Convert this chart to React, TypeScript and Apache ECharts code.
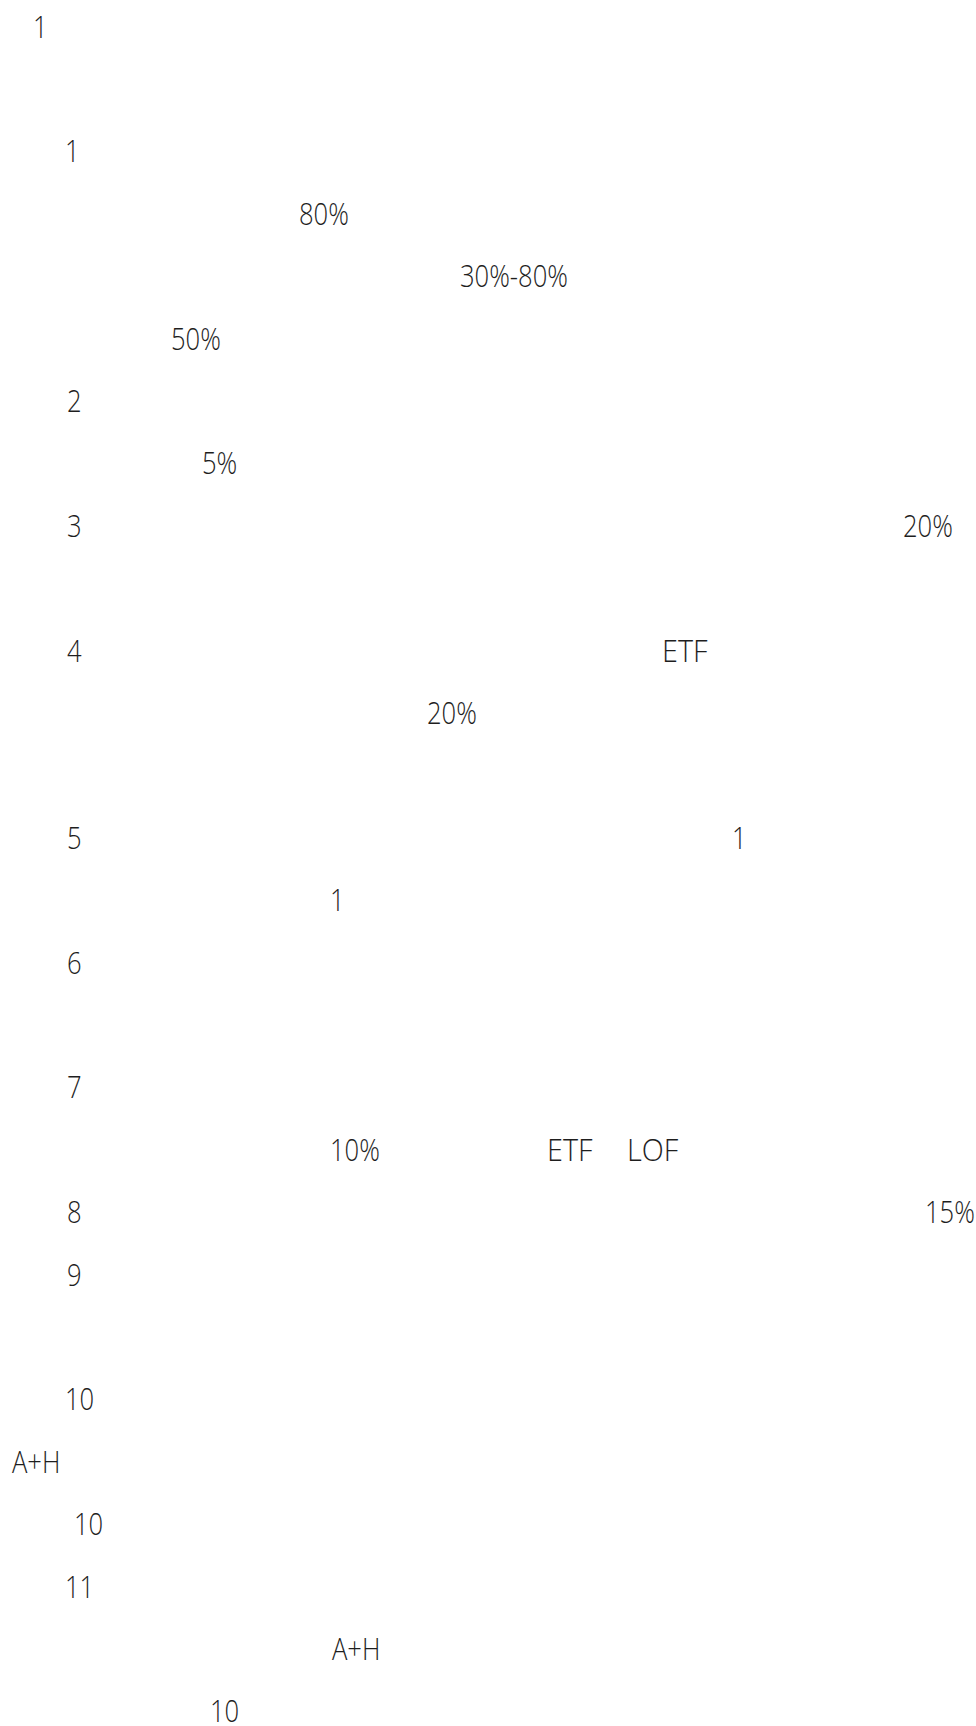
import React, { useEffect, useRef } from "react";
import * as echarts from "echarts";

// Visible (Latin/numeric) text fragments of the page, in reading order
const TEXTS = [
  "1", "1", "80%", "30%-80%", "50%", "2", "5%", "3", "20%", "4", "ETF", "20%",
  "5", "1", "1", "6", "7", "10%", "ETF", "LOF", "8", "15%", "9",
  "10", "A+H", "10", "11", "A+H", "10",
];
// Line index of each fragment (text line number on the page)
const LINES = [
  0, 2, 3, 4, 5, 6, 7, 8, 8, 10, 10, 11,
  13, 13, 14, 15, 17, 18, 18, 18, 19, 19, 20,
  22, 23, 24, 25, 26, 27,
];
// Horizontal start of each fragment (page columns, px)
const COLUMNS = [
  33, 65, 299, 460, 171, 67, 202, 67, 903, 67, 662, 427,
  67, 732, 330, 67, 67, 330, 547, 627, 67, 925, 67,
  65, 12, 74, 65, 332, 210,
];

const PAGE_W = 976;
const PAGE_H = 1726;

export default function App() {
  const ref = useRef<HTMLDivElement>(null);
  useEffect(() => {
    if (!ref.current) return;
    const chart = echarts.init(ref.current, null, { renderer: "svg" });
    const data = TEXTS.map((_, i) => [COLUMNS[i], LINES[i]]);
    chart.setOption({
      animation: false,
      backgroundColor: "#ffffff",
      grid: { left: 0, right: 0, top: 0, bottom: 0, containLabel: false },
      xAxis: { type: "value", min: 0, max: PAGE_W, show: false },
      yAxis: { type: "value", inverse: true, min: -0.4, max: 27.26, show: false },
      series: [
        {
          type: "custom",
          coordinateSystem: "cartesian2d",
          data,
          silent: true,
          renderItem: (params: any, api: any) => {
            const pt = api.coord([api.value(0), api.value(1)]);
            const txt = TEXTS[params.dataIndex];
            const wideLetters = /[ETLOF]/.test(txt);
            return {
              type: "text",
              x: pt[0],
              y: pt[1],
              scaleX: wideLetters ? 0.9 : 0.8,
              style: {
                text: txt,
                fontSize: 32,
                lineHeight: 26,
                fontFamily: "'Open Sans', 'Noto Sans', sans-serif",
                fontWeight: 300,
                fill: "#1e1e1e",
                align: "left",
                verticalAlign: "middle",
              },
            };
          },
        },
      ],
    });
    return () => chart.dispose();
  }, []);
  return (
    <div
      ref={ref}
      style={{ position: "absolute", left: 0, top: 0, width: PAGE_W, height: PAGE_H, background: "#fff" }}
    />
  );
}
